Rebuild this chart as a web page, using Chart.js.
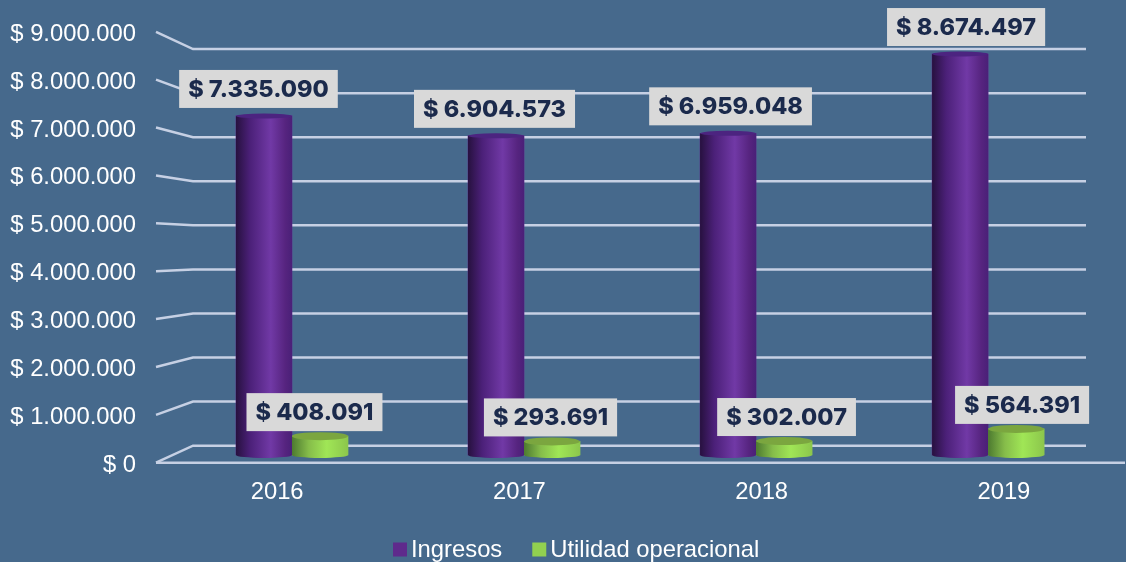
<!DOCTYPE html>
<html>
<head>
<meta charset="utf-8">
<title>Ingresos y utilidad operacional</title>
<script src="https://cdn.jsdelivr.net/npm/chart.js@4"></script>
<style>
  html, body { margin: 0; padding: 0; background: #46698C; }
  #wrap { position: relative; width: 1126px; height: 562px; }
</style>
</head>
<body>
<div id="wrap"><canvas id="grafico"></canvas></div>
<script>
var years = [2016, 2017, 2018, 2019];
var ingresos = [7335090, 6904573, 6959048, 8674497];
var utilidad = [408091, 293691, 302007, 564391];
var yTicks = [0, 1000000, 2000000, 3000000, 4000000, 5000000, 6000000, 7000000, 8000000, 9000000];

var fontFamily = '"Liberation Sans", Arial, sans-serif';
var gridColor = '#C6D0E4';
// tick text sits a bit under the end of its line in the reference
var frontLift = 2.5;

// label nudges, the original boxes were placed by hand
var labelDx = [-5.5, -1.5, 2.5, 6];
var labelDy = [-27, -24];

function money(v) {
    return '$ ' + String(v).replace(/\B(?=(\d{3})+(?!\d))/g, '.');
}

var purpleStops = [[0, '#27113F'], [0.25, '#4B2078'], [0.62, '#7139A6'], [0.88, '#56247F'], [1, '#4A2078']];
var greenStops = [[0, '#4D7A30'], [0.3, '#86BD4A'], [0.62, '#A0E656'], [1, '#8CC64C']];
var lidColors = ['#4C2480', '#7BA63F'];
var lidHeights = [2.5, 4];

var floorGrid = {
    id: 'floorGrid',
    beforeDatasetsDraw: function (chart) {
        var ctx = chart.ctx;
        var front = chart.scales.y;
        var back = chart.scales.yBack;
        var a = chart.chartArea;
        ctx.save();
        ctx.strokeStyle = gridColor;
        ctx.lineWidth = 2.5;
        yTicks.forEach(function (v) {
            ctx.beginPath();
            ctx.moveTo(a.left, front.getPixelForValue(v) - frontLift);
            ctx.lineTo(a.left + 37, back.getPixelForValue(v));
            ctx.lineTo(a.right - 39, back.getPixelForValue(v));
            ctx.stroke();
        });
        ctx.beginPath();
        ctx.moveTo(a.left, front.getPixelForValue(0) - frontLift);
        ctx.lineTo(a.right, front.getPixelForValue(0) - frontLift);
        ctx.stroke();
        ctx.restore();
    }
};

// repaints each bar as a cylinder, geometry comes from the bar elements
var cylinders = {
    id: 'cylinders',
    afterDatasetsDraw: function (chart) {
        var ctx = chart.ctx;
        chart.data.datasets.forEach(function (ds, d) {
            chart.getDatasetMeta(d).data.forEach(function (bar) {
                var left = bar.x - bar.width / 2;
                var g = ctx.createLinearGradient(left, 0, left + bar.width, 0);
                (d === 0 ? purpleStops : greenStops).forEach(function (s) {
                    g.addColorStop(s[0], s[1]);
                });
                ctx.save();
                ctx.fillStyle = g;
                ctx.beginPath();
                ctx.moveTo(left, bar.y);
                ctx.lineTo(left, bar.base);
                ctx.ellipse(bar.x, bar.base, bar.width / 2, 3, 0, Math.PI, 0, true);
                ctx.lineTo(left + bar.width, bar.y);
                ctx.closePath();
                ctx.fill();
                ctx.fillStyle = lidColors[d];
                ctx.beginPath();
                ctx.ellipse(bar.x, bar.y, bar.width / 2, lidHeights[d], 0, 0, Math.PI * 2);
                ctx.fill();
                ctx.restore();
            });
        });
    }
};

var valueLabels = {
    id: 'valueLabels',
    afterDraw: function (chart) {
        var ctx = chart.ctx;
        ctx.save();
        ctx.font = '800 23.5px Inter, sans-serif';
        ctx.textAlign = 'center';
        ctx.textBaseline = 'middle';
        chart.data.datasets.forEach(function (ds, d) {
            chart.getDatasetMeta(d).data.forEach(function (bar, i) {
                var text = money(ds.data[i].y);
                var w = ctx.measureText(text).width + 18;
                var cx = bar.x + labelDx[i];
                var cy = bar.y + labelDy[d];
                ctx.fillStyle = '#D9D9D9';
                ctx.fillRect(cx - w / 2, cy - 19, w, 38);
                ctx.fillStyle = '#1B2A4C';
                ctx.fillText(text, cx, cy + 1);
            });
        });
        ctx.restore();
    }
};

// the built in legend has a fixed swatch gap, the reference one is much tighter
var tightLegend = {
    id: 'tightLegend',
    afterDraw: function (chart) {
        var ctx = chart.ctx;
        var x = 393;
        var y = 549.5;
        ctx.save();
        ctx.font = '23.8px ' + fontFamily;
        ctx.textBaseline = 'middle';
        ctx.textAlign = 'left';
        chart.data.datasets.forEach(function (ds) {
            ctx.fillStyle = ds.backgroundColor;
            ctx.fillRect(x, y - 7, 14, 14);
            ctx.fillStyle = '#FFFFFF';
            ctx.fillText(ds.label, x + 18, y + 1);
            x += 18 + ctx.measureText(ds.label).width + 30;
        });
        ctx.restore();
    }
};

function points(values) {
    return values.map(function (v, i) {
        return { x: years[i], y: v };
    });
}

var grafico = new Chart(document.getElementById('grafico'), {
    type: 'bar',
    data: {
        labels: years.map(String),
        datasets: [
            { label: 'Ingresos', data: points(ingresos), backgroundColor: '#5F2A8C', xAxisID: 'xBars', yAxisID: 'yBars', barThickness: 56 },
            { label: 'Utilidad operacional', data: points(utilidad), backgroundColor: '#92D050', xAxisID: 'xBars', yAxisID: 'yBars', barThickness: 56 }
        ]
    },
    options: {
        responsive: true,
        maintainAspectRatio: false,
        animation: false,
        layout: { padding: { top: 32, right: 1, bottom: 0, left: 0 } },
        plugins: { legend: { display: false }, tooltip: { enabled: false } },
        scales: {
            x: {
                type: 'category',
                grid: { display: false },
                border: { display: false },
                ticks: { color: '#FFFFFF', font: { family: fontFamily, size: 23.8 }, padding: 4.5, maxRotation: 0 },
                afterFit: function (scale) { scale.height = 96.8; }
            },
            xBars: { type: 'linear', display: false, offset: false, min: 2015.414, max: 2019.59 },
            y: {
                min: 0,
                max: 9000000,
                grid: { display: false, drawTicks: false },
                border: { display: false },
                afterBuildTicks: function (scale) {
                    scale.ticks = yTicks.map(function (v) { return { value: v }; });
                },
                ticks: {
                    color: '#FFFFFF',
                    font: { family: fontFamily, size: 23.8 },
                    padding: 20,
                    callback: function (v) { return money(v); }
                },
                afterFit: function (scale) { scale.width = 156; }
            },
            // back wall of the fake 3d box
            yBack: { display: false, min: -442800, max: 9336000 },
            yBars: { display: false, min: -220800, max: 9102000 }
        }
    },
    plugins: [floorGrid, cylinders, valueLabels, tightLegend]
});
</script>
</body>
</html>
